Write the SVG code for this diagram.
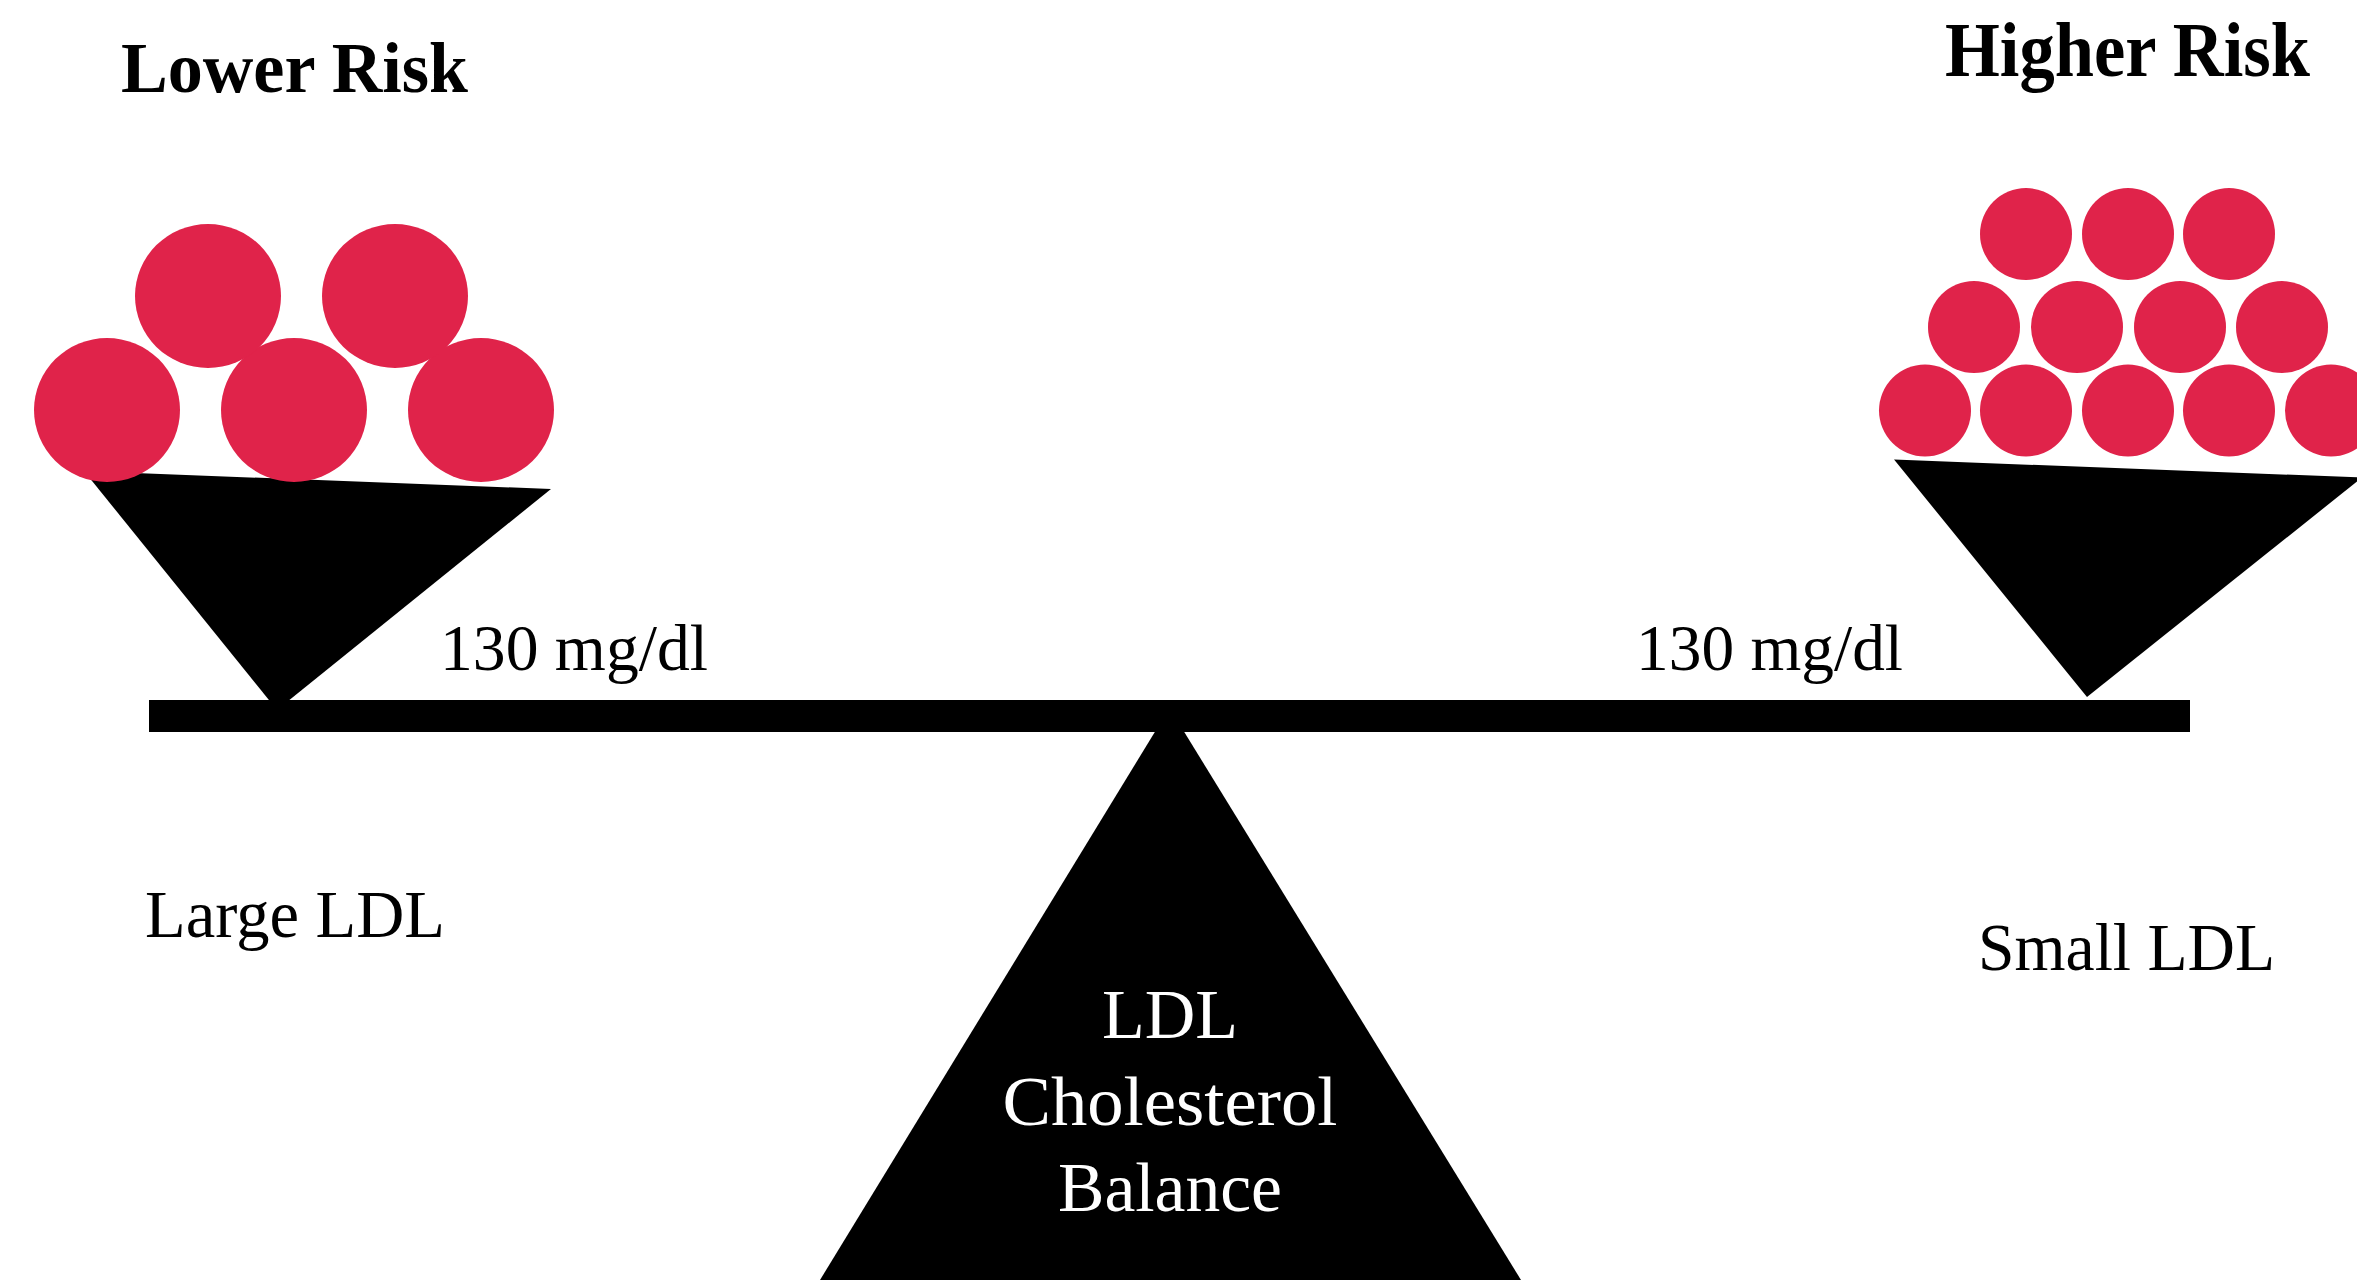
<svg xmlns="http://www.w3.org/2000/svg" width="2357" height="1280" viewBox="0 0 2357 1280">
  <style>
    .ball { fill: #E0234A; }
    .blk { fill: #000000; }
    .title { font-family: "Liberation Serif", "DejaVu Serif", serif; font-weight: bold; fill: #000000; }
    .lbl { font-family: "Liberation Serif", "DejaVu Serif", serif; fill: #000000; }
    .center { font-family: "Liberation Serif", "DejaVu Serif", serif; fill: #ffffff; font-size: 70px; text-anchor: middle; }
  </style>
  <rect x="0" y="0" width="2357" height="1280" fill="#ffffff"/>

  <g id="fulcrum">
    <polygon class="blk" points="1169.5,708 820,1280 1521,1280"/>
    <text class="center" x="1170" y="1038">LDL</text>
    <text class="center" x="1170" y="1125" textLength="335" lengthAdjust="spacingAndGlyphs">Cholesterol</text>
    <text class="center" x="1170" y="1211" textLength="224" lengthAdjust="spacingAndGlyphs">Balance</text>
  </g>

  <g id="beam">
    <rect class="blk" x="149" y="700" width="2041" height="32"/>
  </g>

  <g id="left-pan">
    <polygon class="blk" points="84,471 551,489 277,710"/>
    <ellipse class="ball" cx="107" cy="410" rx="73" ry="72"/>
    <ellipse class="ball" cx="294" cy="410" rx="73" ry="72"/>
    <ellipse class="ball" cx="481" cy="410" rx="73" ry="72"/>
    <ellipse class="ball" cx="208" cy="296" rx="73" ry="72"/>
    <ellipse class="ball" cx="395" cy="296" rx="73" ry="72"/>
  </g>

  <g id="right-pan">
    <polygon class="blk" points="1894,459.5 2362,477.5 2087,697"/>
    <circle class="ball" cx="2026" cy="234" r="46"/>
    <circle class="ball" cx="2128" cy="234" r="46"/>
    <circle class="ball" cx="2229" cy="234" r="46"/>
    <circle class="ball" cx="1974" cy="327" r="46"/>
    <circle class="ball" cx="2077" cy="327" r="46"/>
    <circle class="ball" cx="2180" cy="327" r="46"/>
    <circle class="ball" cx="2282" cy="327" r="46"/>
    <circle class="ball" cx="1925" cy="410.5" r="46"/>
    <circle class="ball" cx="2026" cy="410.5" r="46"/>
    <circle class="ball" cx="2128" cy="410.5" r="46"/>
    <circle class="ball" cx="2229" cy="410.5" r="46"/>
    <circle class="ball" cx="2331" cy="410.5" r="46"/>
  </g>

  <g id="title-lower">
    <text class="title" x="121" y="92" font-size="72" textLength="347" lengthAdjust="spacingAndGlyphs">Lower Risk</text>
  </g>
  <g id="title-higher">
    <text class="title" x="1945" y="76" font-size="79" textLength="365" lengthAdjust="spacingAndGlyphs">Higher Risk</text>
  </g>

  <g id="value-left">
    <text class="lbl" x="440" y="670" font-size="66" textLength="268" lengthAdjust="spacingAndGlyphs">130 mg/dl</text>
  </g>
  <g id="value-right">
    <text class="lbl" x="1636" y="670" font-size="66" textLength="267" lengthAdjust="spacingAndGlyphs">130 mg/dl</text>
  </g>

  <g id="label-large">
    <text class="lbl" x="145" y="937" font-size="68" textLength="300" lengthAdjust="spacingAndGlyphs">Large LDL</text>
  </g>
  <g id="label-small">
    <text class="lbl" x="1978" y="970" font-size="68" textLength="297" lengthAdjust="spacingAndGlyphs">Small LDL</text>
  </g>
</svg>
